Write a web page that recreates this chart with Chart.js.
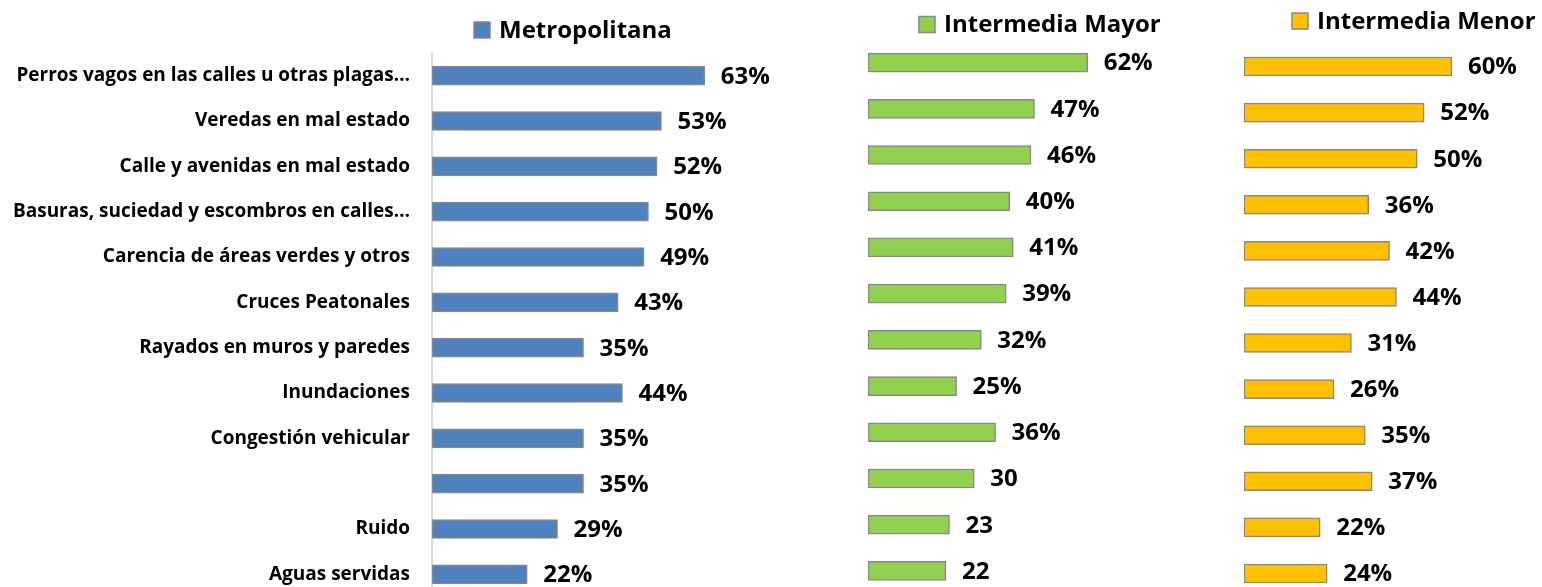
<!DOCTYPE html>
<html>
<head>
<meta charset="utf-8">
<script src="https://cdn.jsdelivr.net/npm/chart.js@4.4.0/dist/chart.umd.min.js"></script>
<style>
    html, body { margin: 0; padding: 0; background: #fff; overflow: hidden; width: 1542px; height: 587px; }
    canvas { position: absolute; top: 0; }
    #metroChart { left: 0; }
    #mayorChart { left: 860px; }
    #menorChart { left: 1236px; }
</style>
</head>
<body>
<canvas id="metroChart" width="800" height="600"></canvas>
<canvas id="mayorChart" width="380" height="600"></canvas>
<canvas id="menorChart" width="306" height="600"></canvas>
<script>
const categories = [
    'Perros vagos en las calles u otras plagas…',
    'Veredas en mal estado',
    'Calle y avenidas en mal estado',
    'Basuras, suciedad y escombros en calles…',
    'Carencia de áreas verdes y otros',
    'Cruces Peatonales',
    'Rayados en muros y paredes',
    'Inundaciones',
    'Congestión vehicular',
    '',
    'Ruido',
    'Aguas servidas'
];

const metroValues = [63, 53, 52, 50, 49, 43, 35, 44, 35, 35, 29, 22];
const mayorValues = [62, 47, 46, 40, 41, 39, 32, 25, 36, 30, 23, 22];
const menorValues = [60, 52, 50, 36, 42, 44, 31, 26, 35, 37, 22, 24];

const metroLabels = ['63%', '53%', '52%', '50%', '49%', '43%', '35%', '44%', '35%', '35%', '29%', '22%'];
const mayorLabels = ['62%', '47%', '46%', '40%', '41%', '39%', '32%', '25%', '36%', '30', '23', '22'];
const menorLabels = ['60%', '52%', '50%', '36%', '42%', '44%', '31%', '26%', '35%', '37%', '22%', '24%'];

const FONT = "'Open Sans'";
Chart.defaults.font.family = FONT;
Chart.defaults.color = '#000';

// text at the end of each bar
const valueLabels = {
    id: 'valueLabels',
    afterDatasetsDraw(chart, args, opts) {
        const ctx = chart.ctx;
        const meta = chart.getDatasetMeta(0);
        ctx.save();
        ctx.font = 'bold 24px ' + FONT;
        ctx.fillStyle = '#000';
        ctx.textAlign = 'left';
        ctx.textBaseline = 'middle';
        meta.data.forEach((bar, i) => {
            ctx.fillText(opts.labels[i], bar.x + 16, bar.y + 1);
        });
        ctx.restore();
    }
};

// one-item legend placed above each panel
const cornerLegend = {
    id: 'cornerLegend',
    afterDraw(chart, args, opts) {
        const ctx = chart.ctx;
        const ds = chart.data.datasets[0];
        ctx.save();
        ctx.fillStyle = ds.backgroundColor;
        ctx.fillRect(opts.x, opts.y - 8, 16, 16);
        ctx.strokeStyle = '#888';
        ctx.lineWidth = 1.5;
        ctx.strokeRect(opts.x, opts.y - 8, 16, 16);
        ctx.font = 'bold 24px ' + FONT;
        ctx.fillStyle = '#000';
        ctx.textAlign = 'left';
        ctx.textBaseline = 'middle';
        ctx.fillText(ds.label, opts.x + 25, opts.y + 1);
        ctx.restore();
    }
};

function makeChart(id, name, values, labels, color, cfg) {
    const ctx = document.getElementById(id);
    const yAxis = cfg.showCategories ? {
        afterFit: s => {
            s.width = 432;
            // keep the tick padding from pushing the plot area down
            s.paddingTop = 0;
            s.paddingBottom = 0;
        },
        grid: { display: false, drawTicks: false },
        border: { display: true, color: '#d9d9d9', width: 2 },
        ticks: { padding: 22, color: '#000', font: { size: 19, weight: 'bold' } }
    } : { display: false };

    return new Chart(ctx, {
        type: 'bar',
        data: {
            labels: categories,
            datasets: [{
                label: name,
                data: values,
                backgroundColor: color,
                borderColor: '#888888',
                borderWidth: 1.5,
                borderSkipped: false,
                barThickness: 19
            }]
        },
        options: {
            indexAxis: 'y',
            responsive: false,
            animation: false,
            layout: { padding: cfg.padding },
            scales: {
                x: { display: false, min: 0, max: cfg.max },
                y: yAxis
            },
            plugins: {
                legend: { display: false },
                tooltip: { enabled: false },
                valueLabels: { labels: labels },
                cornerLegend: cfg.legend
            }
        },
        plugins: [valueLabels, cornerLegend]
    });
}

makeChart('metroChart', 'Metropolitana', metroValues, metroLabels, '#4F81BD', {
    showCategories: true,
    max: 85,
    padding: { top: 53, bottom: 3, left: 0, right: 0 },
    legend: { x: 474, y: 30 }
});

makeChart('mayorChart', 'Intermedia Mayor', mayorValues, mayorLabels, '#92D050', {
    showCategories: false,
    max: 105,
    padding: { top: 39.5, bottom: 6, left: 8, right: 0 },
    legend: { x: 59, y: 24.5 }
});

makeChart('menorChart', 'Intermedia Menor', menorValues, menorLabels, '#FFC000', {
    showCategories: false,
    max: 86,
    padding: { top: 43.5, bottom: 3.5, left: 8, right: 0 },
    legend: { x: 56, y: 21 }
});
</script>
</body>
</html>
